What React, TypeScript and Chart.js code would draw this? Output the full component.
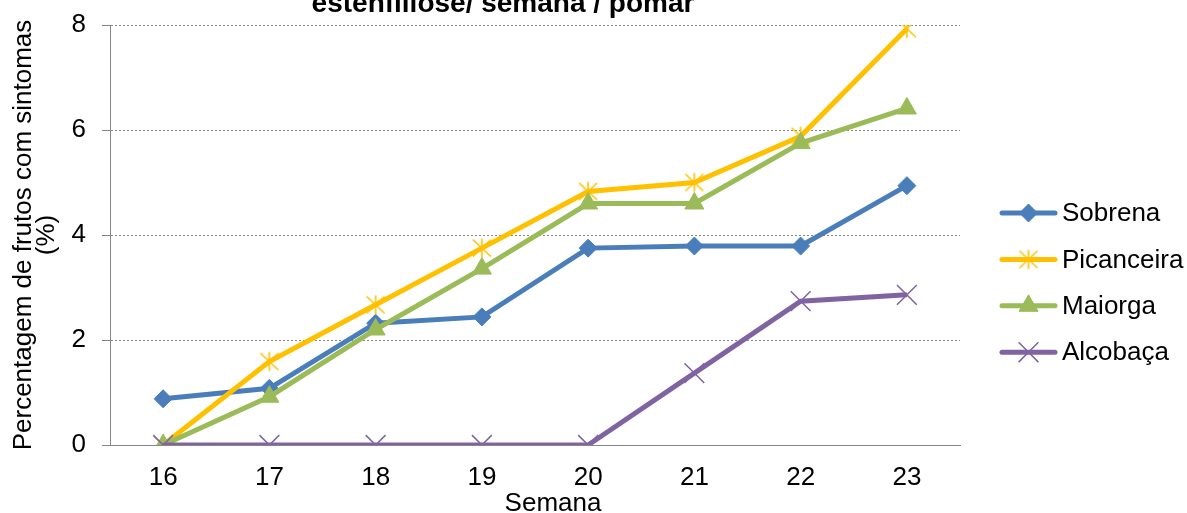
import React, { useEffect, useRef } from 'react';
import { Chart, registerables } from 'chart.js';
import { drawPoint } from 'chart.js/helpers';

Chart.register(...registerables);

// ---- data ----
const weeks = ['16', '17', '18', '19', '20', '21', '22', '23'];
const sobrena = [0.88, 1.08, 2.32, 2.44, 3.75, 3.79, 3.79, 4.94];
const picanceira = [0, 1.59, 2.67, 3.75, 4.83, 5.0, 5.88, 7.93];
const maiorga = [0, 0.92, 2.2, 3.36, 4.6, 4.6, 5.75, 6.41];
const alcobaca = [0, 0, 0, 0, 0, 1.37, 2.74, 2.86];
const seriesNames = ['Sobrena', 'Picanceira', 'Maiorga', 'Alcobaça'];
const yTickValues = [0, 2, 4, 6, 8];
const chartTitle = 'estenfiliose/ semana / pomar';
const xTitle = 'Semana';
const yTitle = ['Percentagem de frutos com sintomas', '(%)'];

const FONT = '"Liberation Sans", Arial, sans-serif';
const GRAY = '#868686';

// Excel-like asterisk marker (X plus a vertical bar)
function makeAsterisk(color: string) {
  const c = document.createElement('canvas');
  c.width = 22;
  c.height = 22;
  const g = c.getContext('2d')!;
  g.strokeStyle = color;
  g.lineWidth = 1.6;
  g.beginPath();
  g.moveTo(11, 1.5);
  g.lineTo(11, 20.5);
  g.moveTo(2, 2.5);
  g.lineTo(20, 19.5);
  g.moveTo(20, 2.5);
  g.lineTo(2, 19.5);
  g.stroke();
  return c;
}

const textAndLegendPlugin = {
  id: 'textAndLegend',
  afterDraw(chart: any) {
    const { ctx, chartArea } = chart;
    ctx.save();
    ctx.fillStyle = '#000';
    // main title (only the last line is visible in the reference)
    ctx.font = `bold 28px ${FONT}`;
    ctx.textAlign = 'center';
    ctx.textBaseline = 'alphabetic';
    ctx.fillText(chartTitle, 503, 12);
    // x axis title
    ctx.font = `26px ${FONT}`;
    ctx.fillText(xTitle, (chartArea.left + chartArea.right) / 2 + 18, 511);

    // legend
    const x0 = chartArea.right + 42;
    const y0 = 213;
    const step = 46.4;
    chart.data.datasets.forEach((ds: any, i: number) => {
      const y = y0 + i * step;
      ctx.strokeStyle = ds.borderColor;
      ctx.lineWidth = ds.borderWidth;
      ctx.lineCap = 'round';
      ctx.beginPath();
      ctx.moveTo(x0, y);
      ctx.lineTo(x0 + 53, y);
      ctx.stroke();
      ctx.fillStyle = ds.pointBackgroundColor;
      ctx.strokeStyle = ds.pointBorderColor;
      ctx.lineWidth = ds.pointBorderWidth;
      ctx.lineCap = 'butt';
      drawPoint(ctx, { pointStyle: ds.pointStyle, radius: ds.pointRadius, rotation: 0, borderWidth: ds.pointBorderWidth }, x0 + 26.5, y);
      ctx.fillStyle = '#000';
      ctx.font = `26px ${FONT}`;
      ctx.textAlign = 'left';
      ctx.textBaseline = 'middle';
      ctx.fillText(ds.label, x0 + 60, y + 1);
    });
    ctx.restore();
  },
};

export default function App() {
  const canvasRef = useRef<HTMLCanvasElement | null>(null);

  useEffect(() => {
    document.body.style.margin = '0';
    const canvas = canvasRef.current;
    if (!canvas) return;
    const mk = (label: string, data: number[], color: string, style: any, radius: number, bw: number, order: number) => ({
      label,
      data,
      borderColor: color,
      backgroundColor: color,
      borderWidth: 5,
      pointStyle: style,
      pointRadius: radius,
      pointBorderWidth: bw,
      pointBackgroundColor: color,
      pointBorderColor: color,
      pointHoverRadius: radius,
      tension: 0,
      order,
    });
    const chart = new Chart(canvas, {
      type: 'line',
      data: {
        labels: weeks,
        datasets: [
          mk(seriesNames[0], sobrena, '#4A7EBB', 'rectRot', 9, 1, 4),
          mk(seriesNames[1], picanceira, '#FFC000', makeAsterisk('#FFC000'), 11, 1.5, 3),
          mk(seriesNames[2], maiorga, '#9BBB59', 'triangle', 11, 1, 2),
          mk(seriesNames[3], alcobaca, '#8064A2', 'crossRot', 14, 1.5, 1),
        ],
      },
      options: {
        responsive: false,
        animation: false,
        devicePixelRatio: 1,
        layout: { padding: { top: 25, right: 227, left: 0, bottom: 0 } },
        plugins: {
          legend: { display: false },
          title: { display: false },
          tooltip: { enabled: false },
        },
        scales: {
          x: {
            type: 'category',
            offset: true,
            grid: { display: false, drawTicks: false },
            border: { display: true, color: GRAY, width: 1 },
            ticks: { color: '#000', font: { family: FONT, size: 26 }, padding: 17, maxRotation: 0 },
            afterFit: (scale: any) => {
              scale.height = 68;
              scale.paddingLeft = 0;
              scale.paddingRight = 0;
            },
          },
          y: {
            min: 0,
            max: 8,
            afterBuildTicks: (scale: any) => {
              scale.ticks = yTickValues.map((v) => ({ value: v }));
            },
            grid: {
              color: GRAY,
              lineWidth: 1,
              drawTicks: true,
              tickLength: 8,
              tickColor: GRAY,
              tickBorderDash: [],
            },
            border: { display: true, color: GRAY, width: 1, dash: [2, 2] },
            ticks: { color: '#000', font: { family: FONT, size: 26 }, padding: 16 },
            title: {
              display: true,
              text: yTitle,
              color: '#000',
              font: { family: FONT, size: 26, lineHeight: '23px' },
              padding: { top: 12.5, bottom: 0 },
            },
            afterFit: (scale: any) => {
              scale.width = 110;
              scale.paddingTop = 0;
              scale.paddingBottom = 0;
            },
          },
        },
      },
      plugins: [textAndLegendPlugin],
    });
    return () => chart.destroy();
  }, []);

  return (
    <div style={{ width: 1187, height: 513, background: '#fff' }}>
      <canvas ref={canvasRef} width={1187} height={513} style={{ display: 'block' }} />
    </div>
  );
}
